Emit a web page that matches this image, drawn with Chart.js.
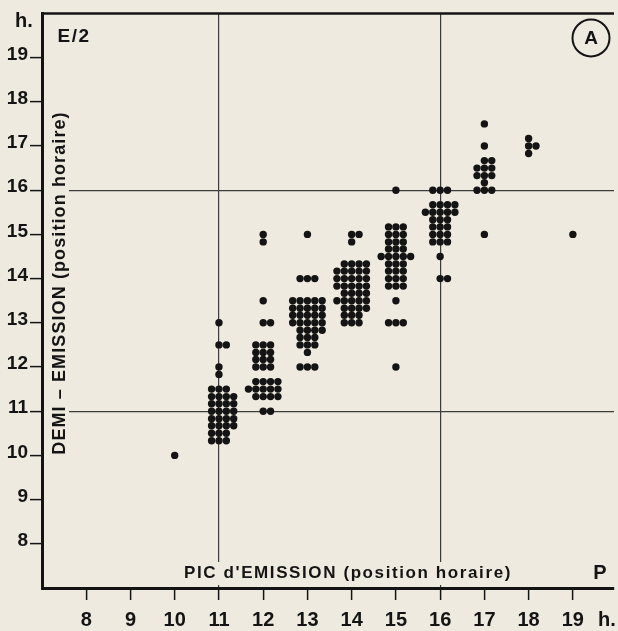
<!DOCTYPE html>
<html lang="fr">
<head>
  <meta charset="UTF-8">
  <title>Pic d'émission / demi-émission</title>
  <script src="https://cdn.jsdelivr.net/npm/chart.js"></script>
  <style>
    body { margin: 0; background: #eeeadf; }
    canvas { display: block; }
  </style>
</head>
<body>
  <canvas id="chart" width="618" height="631"></canvas>

  <script>
    // peak hour (x) -> list of [half-emission hour, number of dots]
    const hours = [10, 11, 12, 13, 14, 15, 16, 17, 18, 19];
    const c10 = [[10, 1]];
    const c11 = [[13, 1], [12.5, 2], [12, 1], [11.83, 1], [11.5, 3], [11.33, 4], [11.17, 4], [11, 4], [10.83, 4], [10.67, 4], [10.5, 3], [10.33, 3]];
    const c12 = [[15, 1], [14.83, 1], [13.5, 1], [13, 2], [12.5, 3], [12.33, 3], [12.17, 3], [12, 3], [11.67, 4], [11.5, 5], [11.33, 4], [11, 2]];
    const c13 = [[15, 1], [14, 3], [13.5, 5], [13.33, 5], [13.17, 5], [13, 5], [12.83, 4], [12.67, 3], [12.5, 3], [12.33, 1], [12, 3]];
    const c14 = [[15, 2], [14.83, 1], [14.33, 4], [14.17, 5], [14, 5], [13.83, 5], [13.67, 4], [13.5, 5], [13.33, 4], [13.17, 3], [13, 3]];
    const c15 = [[16, 1], [15.17, 3], [15, 3], [14.83, 3], [14.67, 3], [14.5, 5], [14.33, 3], [14.17, 3], [14, 3], [13.83, 3], [13.5, 1], [13, 3], [12, 1]];
    const c16 = [[16, 3], [15.67, 4], [15.5, 5], [15.33, 3], [15.17, 3], [15, 3], [14.83, 3], [14.5, 1], [14, 2]];
    const c17 = [[17.5, 1], [17, 1], [16.67, 2], [16.5, 3], [16.33, 3], [16.17, 1], [16, 3], [15, 1]];
    const c18 = [[17.17, 1], [17, 2], [16.83, 1]];
    const c19 = [[15, 1]];
    const columns = [c10, c11, c12, c13, c14, c15, c16, c17, c18, c19];

    const xTicks = [8, 9, 10, 11, 12, 13, 14, 15, 16, 17, 18, 19];
    const yTicks = [8, 9, 10, 11, 12, 13, 14, 15, 16, 17, 18, 19];
    const refLines = [11, 16];

    const ink = '#141414';
    const paper = '#eeeadf';
    const family = "'Liberation Sans', Arial, sans-serif";

    // equal dots in a row are set side by side: centre, right, left, ...
    const slotOrder = [0, 1, -1, 2, -2, 3, -3];
    const slot = 1 / 6;
    const points = [];
    hours.forEach((h, i) => {
      columns[i].forEach(([y, n]) => {
        for (let k = 0; k < n; k++) points.push({ x: h + slotOrder[k] * slot, y: y });
      });
    });

    const decorations = {
      id: 'decorations',
      afterDraw(chart) {
        const { ctx, chartArea: a } = chart;
        ctx.save();
        // top frame line
        ctx.strokeStyle = ink;
        ctx.lineWidth = 2.5;
        ctx.beginPath();
        ctx.moveTo(a.left - 1, a.top);
        ctx.lineTo(a.right, a.top);
        ctx.stroke();

        ctx.fillStyle = ink;
        ctx.textAlign = 'center';
        ctx.textBaseline = 'middle';

        // y title, rotated, on a paper strip that cuts the grid lines
        ctx.font = 'bold 18px ' + family;
        ctx.letterSpacing = '1.1px';
        const yt = 'DEMI – EMISSION (position horaire)';
        const yw = ctx.measureText(yt).width;
        ctx.fillStyle = paper;
        ctx.fillRect(a.left + 2, 283 - yw / 2 - 3, 25, yw + 6);
        ctx.fillStyle = ink;
        ctx.save();
        ctx.translate(60, 283);
        ctx.rotate(-Math.PI / 2);
        ctx.fillText(yt, 0, 0);
        ctx.restore();

        // x title
        ctx.font = 'bold 17px ' + family;
        ctx.letterSpacing = '1.6px';
        const xt = "PIC d'EMISSION (position horaire)";
        const xw = ctx.measureText(xt).width;
        ctx.fillStyle = paper;
        ctx.fillRect(348 - xw / 2 - 4, 562, xw + 8, 23);
        ctx.fillStyle = ink;
        ctx.fillText(xt, 348, 573);
        ctx.letterSpacing = '0px';

        ctx.font = 'bold 20px ' + family;
        ctx.fillText('P', 600, 573);
        ctx.font = 'bold 20px ' + family;
        ctx.fillText('h.', 24, 21);
        ctx.fillText('h.', 607, 620);
        ctx.font = 'bold 19px ' + family;
        ctx.letterSpacing = '1.5px';
        ctx.fillText('E/2', 74, 37);
        ctx.letterSpacing = '0px';

        // circled A
        ctx.lineWidth = 2;
        ctx.beginPath();
        ctx.arc(591, 38, 18.5, 0, Math.PI * 2);
        ctx.stroke();
        ctx.font = 'bold 19px ' + family;
        ctx.fillText('A', 591, 39);
        ctx.restore();
      }
    };

    const gridColor = ctx => refLines.includes(ctx.tick.value) ? '#3c3c3c' : 'rgba(0,0,0,0)';

    new Chart(document.getElementById('chart'), {
      type: 'scatter',
      data: {
        datasets: [{
          data: points,
          pointRadius: 3.7,
          pointBackgroundColor: ink,
          pointBorderWidth: 0
        }]
      },
      options: {
        responsive: false,
        animation: false,
        devicePixelRatio: 1,
        layout: { padding: { top: 10, left: 0, right: 0, bottom: 0 } },
        plugins: { legend: { display: false }, tooltip: { enabled: false } },
        scales: {
          x: {
            type: 'linear',
            min: 7,
            max: 19.93,
            afterBuildTicks: s => { s.ticks = xTicks.map(v => ({ value: v })); },
            afterFit: s => { s.height = 43; },
            border: { display: true, color: ink, width: 3 },
            grid: { color: gridColor, lineWidth: 1.2, tickColor: ink, tickWidth: 1.5, tickLength: 12 },
            ticks: { color: ink, padding: 8, font: { family: family, size: 20, weight: 'bold' } }
          },
          y: {
            type: 'linear',
            min: 7,
            max: 20,
            afterBuildTicks: s => { s.ticks = yTicks.map(v => ({ value: v })); },
            afterFit: s => { s.width = 42; },
            border: { display: true, color: ink, width: 3 },
            grid: { color: gridColor, lineWidth: 1.2, tickColor: ink, tickWidth: 1.5, tickLength: 12 },
            ticks: { color: ink, padding: 2, labelOffset: -3, font: { family: family, size: 19, weight: 'bold' } }
          }
        }
      },
      plugins: [decorations]
    });
  </script>
</body>
</html>
